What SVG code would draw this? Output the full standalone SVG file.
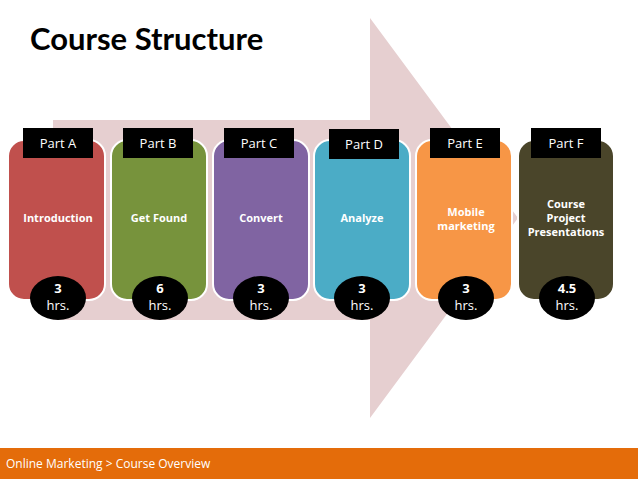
<svg xmlns="http://www.w3.org/2000/svg" width="638" height="479" viewBox="0 0 638 479">
<style>
.card{stroke:#fff;stroke-width:2}
.lab{fill:#000}
.lt{font-family:"Open Sans",sans-serif;font-size:13px;fill:#fff;text-anchor:middle}
.ct{font-family:"Open Sans",sans-serif;font-size:11px;font-weight:bold;fill:#fff;text-anchor:middle}
.ht{font-family:"Open Sans",sans-serif;font-size:13px;fill:#fff;text-anchor:middle}
</style>
<rect width="638" height="479" fill="#fff"/>
<polygon points="53,120 370,120 370,18 518,218 370,418 370,320 53,320" fill="#E6CFD0"/>
<text x="30" y="50" font-family="Lato,sans-serif" font-weight="bold" font-size="31" fill="#000">Course Structure</text>
<g id="connectors"></g>
<g id="partA"><rect class="card" x="8" y="140" width="97" height="160" rx="16" fill="#C0504D"/><rect class="lab" x="23" y="128" width="70" height="30"/><text class="lt" x="58" y="148">Part A</text><text class="ct" x="58" y="222">Introduction</text><ellipse cx="58" cy="298" rx="28" ry="22" fill="#000"/><text class="ht" x="58" y="293" font-weight="bold">3</text><text class="ht" x="58" y="310">hrs.</text></g>
<g id="partB"><rect class="card" x="111" y="140" width="96" height="160" rx="16" fill="#77933C"/><rect class="lab" x="123" y="128" width="70" height="30"/><text class="lt" x="158" y="148">Part B</text><text class="ct" x="159" y="222">Get Found</text><ellipse cx="160" cy="298" rx="28" ry="22" fill="#000"/><text class="ht" x="160" y="293" font-weight="bold">6</text><text class="ht" x="160" y="310">hrs.</text></g>
<g id="partC"><rect class="card" x="213" y="140" width="96" height="160" rx="16" fill="#8064A2"/><rect class="lab" x="224" y="128" width="70" height="30"/><text class="lt" x="259" y="148">Part C</text><text class="ct" x="261" y="222">Convert</text><ellipse cx="261" cy="298" rx="28" ry="22" fill="#000"/><text class="ht" x="261" y="293" font-weight="bold">3</text><text class="ht" x="261" y="310">hrs.</text></g>
<g id="partD"><rect class="card" x="314" y="140" width="96" height="160" rx="16" fill="#4BACC6"/><rect class="lab" x="329" y="129" width="70" height="30"/><text class="lt" x="364" y="149">Part D</text><text class="ct" x="362" y="222">Analyze</text><ellipse cx="362" cy="298" rx="28" ry="22" fill="#000"/><text class="ht" x="362" y="293" font-weight="bold">3</text><text class="ht" x="362" y="310">hrs.</text></g>
<g id="partE"><rect class="card" x="416" y="140" width="96" height="160" rx="16" fill="#F79646"/><rect class="lab" x="430" y="128" width="70" height="30"/><text class="lt" x="465" y="148">Part E</text><text class="ct" x="466" y="216">Mobile</text><text class="ct" x="466" y="230">marketing</text><ellipse cx="466" cy="298" rx="28" ry="22" fill="#000"/><text class="ht" x="466" y="293" font-weight="bold">3</text><text class="ht" x="466" y="310">hrs.</text></g>
<g id="partF"><rect class="card" x="518" y="140" width="96" height="160" rx="16" fill="#4A452A"/><rect class="lab" x="531" y="128" width="70" height="30"/><text class="lt" x="566" y="148">Part F</text><text class="ct" x="566" y="208">Course</text><text class="ct" x="566" y="222">Project</text><text class="ct" x="566" y="236">Presentations</text><ellipse cx="567" cy="298" rx="28" ry="22" fill="#000"/><text class="ht" x="567" y="293" font-weight="bold">4.5</text><text class="ht" x="567" y="310">hrs.</text></g>
<rect x="0" y="448" width="638" height="31" fill="#E46C0A"/>
<text x="6" y="468" font-family="Open Sans,sans-serif" font-size="12" fill="#fff">Online Marketing &gt; Course Overview</text>
</svg>
